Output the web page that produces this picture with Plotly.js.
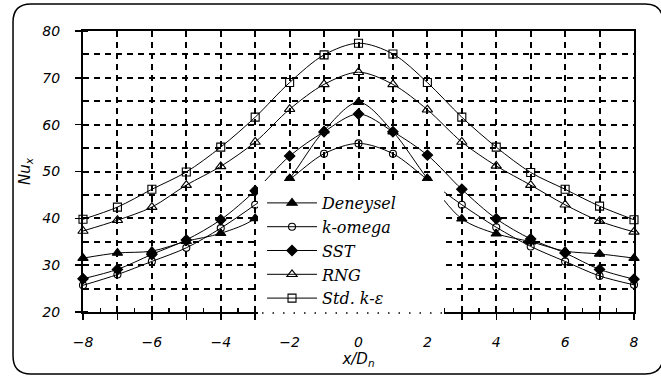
<!DOCTYPE html>
<html><head><meta charset="utf-8">
<script src="https://cdn.plot.ly/plotly-3.0.1.min.js"></script>
<style>html,body{margin:0;padding:0;background:#fff}#chart{width:661px;height:376px}</style>
</head><body><div id="chart"></div>
<script>
const xPos = [-8,-7,-6,-5,-4,-3,-2,-1,0,1,2,3,4,5,6,7,8];
const deneysel = [31.5,32.6,33.0,35.1,36.8,40.0,48.5,58.7,64.8,58.5,48.5,39.9,36.7,35.0,33.0,32.4,31.5];
const kOmega   = [25.7,28.0,30.8,33.7,37.9,42.9,48.3,53.8,56.0,53.8,48.3,42.9,38.1,34.0,30.8,27.7,25.8];
const sst      = [27.1,29.1,32.3,35.4,39.7,45.9,53.3,58.5,62.3,58.5,53.5,46.2,39.9,35.6,32.6,29.1,27.0];
const rng      = [37.3,39.6,42.4,47.1,51.1,56.3,63.3,68.6,71.2,68.6,63.2,56.3,51.2,47.1,42.9,39.4,37.1];
const stdKe    = [39.8,42.4,46.2,49.9,55.2,61.6,69.0,74.9,77.4,75.1,69.0,61.6,55.2,49.8,46.2,42.6,39.7];
const seriesNames = ['Deneysel','k-omega','SST','RNG','Std. k-\u03b5'];
const xTickVals = [-8,-6,-4,-2,0,2,4,6,8];
const xTickText = ['\u22128','\u22126','\u22124','\u22122','0','2','4','6','8'];
const yTickVals = [20,30,40,50,60,70,80];
const yTickText = ['20','30','40','50','60','70','80'];

const L = 83, R = 27, T = 31, B = 64, W = 661, H = 376;
const pw = W - L - R, ph = H - T - B;
const px = v => ((v - L) / pw).toFixed(4);
const py = v => ((H - B - v) / ph).toFixed(4);

function mk(y, name, symbol, size) {
  return {x: xPos, y: y, name: name, type: 'scatter', mode: 'lines+markers',
    line: {color: '#000', width: 1, shape: 'spline', smoothing: 0.9},
    marker: {symbol: symbol, size: size, color: '#000', line: {color: '#000', width: 1.1}},
    cliponaxis: false};
}
const data = [
  mk(deneysel, seriesNames[0], 'triangle-up', 9),
  mk(kOmega, seriesNames[1], 'circle-open', 7),
  mk(sst, seriesNames[2], 'diamond', 8),
  mk(rng, seriesNames[3], 'triangle-up-open', 9),
  mk(stdKe, seriesNames[4], 'square-open', 8),
  {x: [xPos[0]], y: [rng[0]], xaxis: 'x2', yaxis: 'y', mode: 'markers', showlegend: false,
   marker: {opacity: 0}, hoverinfo: 'skip'}
];

const fl = 13, fr = 663, ft = 4, fb = 374, rad = 18;
const framePath = 'M' + px(fl + rad) + ',' + py(ft) +
  ' L' + px(fr - rad) + ',' + py(ft) +
  ' Q' + px(fr) + ',' + py(ft) + ' ' + px(fr) + ',' + py(ft + rad) +
  ' L' + px(fr) + ',' + py(fb - rad) +
  ' Q' + px(fr) + ',' + py(fb) + ' ' + px(fr - rad) + ',' + py(fb) +
  ' L' + px(fl + rad) + ',' + py(fb) +
  ' Q' + px(fl) + ',' + py(fb) + ' ' + px(fl) + ',' + py(fb - rad) +
  ' L' + px(fl) + ',' + py(ft + rad) +
  ' Q' + px(fl) + ',' + py(ft) + ' ' + px(fl + rad) + ',' + py(ft) + ' Z';

const gridCommon = {gridcolor: '#000', gridwidth: 2, griddash: '6px,5px'};
const tickFont = {family: 'DejaVu Sans', size: 14, color: '#000', style: 'italic'};

const layout = {
  width: W, height: H,
  margin: {l: L, r: R, t: T, b: B},
  paper_bgcolor: '#fff', plot_bgcolor: '#fff',
  showlegend: true,
  xaxis: Object.assign({
    range: [-8, 8], tickmode: 'array', tickvals: xTickVals, ticktext: xTickText,
    ticks: 'outside', ticklen: 6, tickwidth: 1.5, tickcolor: '#000',
    showline: true, linecolor: '#000', linewidth: 2, mirror: true,
    showgrid: true, zeroline: false, tickfont: tickFont, ticklabelstandoff: 10,
    minor: Object.assign({dtick: 1, tick0: 0, ticks: 'outside', ticklen: 6, tickwidth: 1.5, tickcolor: '#000', showgrid: true}, gridCommon),
    title: {text: 'x/D<sub>n</sub>', font: {family: 'DejaVu Sans', size: 15, color: '#000', style: 'italic'}, standoff: 0}
  }, gridCommon),
  xaxis2: {
    overlaying: 'x', anchor: 'y', side: 'bottom', range: [-8, 8], dtick: 0.5, tick0: 0,
    ticks: 'inside', ticklen: 4, tickwidth: 1.2, tickcolor: '#000',
    showticklabels: false, showgrid: false, showline: false, zeroline: false
  },
  yaxis: Object.assign({
    range: [20, 80], tickmode: 'array', tickvals: yTickVals, ticktext: yTickText,
    ticks: 'outside', ticklen: 6, tickwidth: 1.5, tickcolor: '#000',
    showline: true, linecolor: '#000', linewidth: 2, mirror: true,
    showgrid: true, zeroline: false, tickfont: tickFont, ticklabelstandoff: 12,
    minor: Object.assign({dtick: 5, tick0: 0, ticks: 'inside', ticklen: 5, tickwidth: 1.2, tickcolor: '#000', showgrid: true}, gridCommon),
    title: {text: 'Nu<sub>x</sub>', font: {family: 'DejaVu Sans', size: 15, color: '#000', style: 'italic'}, standoff: 8}
  }, gridCommon),
  legend: {
    x: Number(px(262)), y: Number(py(186)), xanchor: 'left', yanchor: 'top',
    bgcolor: 'rgba(0,0,0,0)', borderwidth: 0, itemwidth: 50,
    font: {family: 'DejaVu Serif', size: 16, color: '#000', style: 'italic'},
    tracegroupgap: 0
  },
  shapes: [
    {type: 'rect', xref: 'paper', yref: 'paper', x0: Number(px(258)), x1: Number(px(444)),
     y0: Number(py(320)), y1: Number(py(181)), fillcolor: '#fff', line: {width: 0}, layer: 'above'},
    {type: 'line', xref: 'paper', yref: 'paper', x0: Number(px(262)), x1: Number(px(444)),
     y0: Number(py(313)), y1: Number(py(313)), line: {color: '#000', width: 1.5, dash: '1.5px,9px'}, layer: 'above'},
    {type: 'path', xref: 'paper', yref: 'paper', path: framePath, line: {color: '#000', width: 1.5}, layer: 'above'}
  ]
};
Plotly.newPlot('chart', data, layout, {staticPlot: true, displayModeBar: false});
</script>
</body></html>
